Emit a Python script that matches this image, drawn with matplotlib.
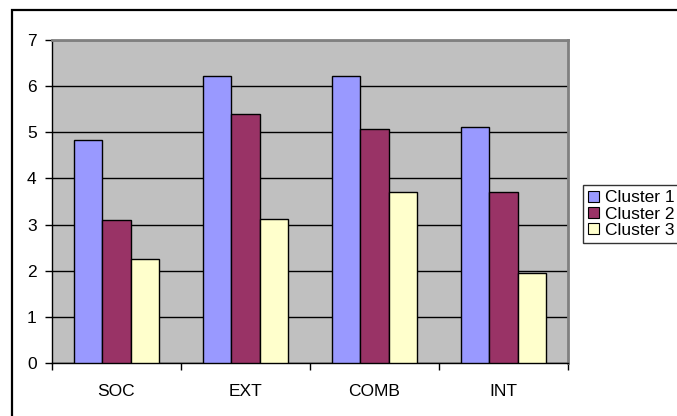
import numpy as np
import matplotlib.pyplot as plt
from matplotlib.patches import Rectangle

plt.rcParams['font.family'] = ['Liberation Sans', 'DejaVu Sans']

# Data
categories = ["SOC", "EXT", "COMB", "INT"]
series_names = ["Cluster 1", "Cluster 2", "Cluster 3"]
cluster1 = [4.84, 6.21, 6.21, 5.11]
cluster2 = [3.10, 5.39, 5.08, 3.71]
cluster3 = [2.25, 3.13, 3.71, 1.94]
colors = ["#9999FF", "#993366", "#FFFFCC"]

W, H = 677, 416
fig = plt.figure(figsize=(W / 100, H / 100), dpi=100)

# outer chart frame (clipped on the right and bottom in the original)
fig.patches.append(Rectangle((12 / W, -0.05), 1.1, (H - 10) / H + 0.05,
                             transform=fig.transFigure, fill=False,
                             edgecolor="black", linewidth=1.6))

ax = fig.add_axes([52 / W, (H - 363) / H, (568 - 52) / W, (363 - 40) / H])
ax.set_facecolor("#C0C0C0")

x = np.arange(len(categories))
w = 0.222
for i, (vals, name) in enumerate(zip([cluster1, cluster2, cluster3], series_names)):
    ax.bar(x + (i - 1) * w, vals, width=w, color=colors[i], edgecolor="black",
           linewidth=1.0, label=name, zorder=3)

ax.set_xlim(-0.5, len(categories) - 0.5)
ax.set_ylim(0, 7)
ax.set_yticks(range(0, 8))
ax.yaxis.grid(True, color="black", linewidth=1.0, zorder=1)
ax.set_axisbelow(True)

# category boundaries as ticks, names centred
ax.set_xticks(np.arange(-0.5, len(categories), 1.0))
ax.set_xticklabels([])
ax.set_xticks(x, minor=True)
ax.set_xticklabels(categories, minor=True)
ax.tick_params(axis="x", which="minor", length=0, pad=15, labelsize=12.5)
ax.tick_params(axis="x", which="major", length=5, direction="out", width=1)
ax.tick_params(axis="y", length=5, direction="out", width=1, labelsize=12.5, pad=6)

for s in ["left", "bottom"]:
    ax.spines[s].set_color("black")
    ax.spines[s].set_linewidth(1.0)
for s in ["top", "right"]:
    ax.spines[s].set_color("#808080")
    ax.spines[s].set_linewidth(2.0)

# legend runs off the right edge, as in the original
leg = fig.legend(loc="upper left", bbox_to_anchor=(583 / W, (H - 185) / H, 0.2, 0),
                 mode="expand", frameon=True, fancybox=False, edgecolor="black",
                 fontsize=12.5, handlelength=0.6, handleheight=0.6,
                 handletextpad=0.35, borderpad=0.3, labelspacing=0.08,
                 borderaxespad=0)
leg.get_frame().set_linewidth(1.0)
for h in leg.legend_handles:
    h.set_linewidth(0.8)

fig.savefig("out.png", dpi=100)
